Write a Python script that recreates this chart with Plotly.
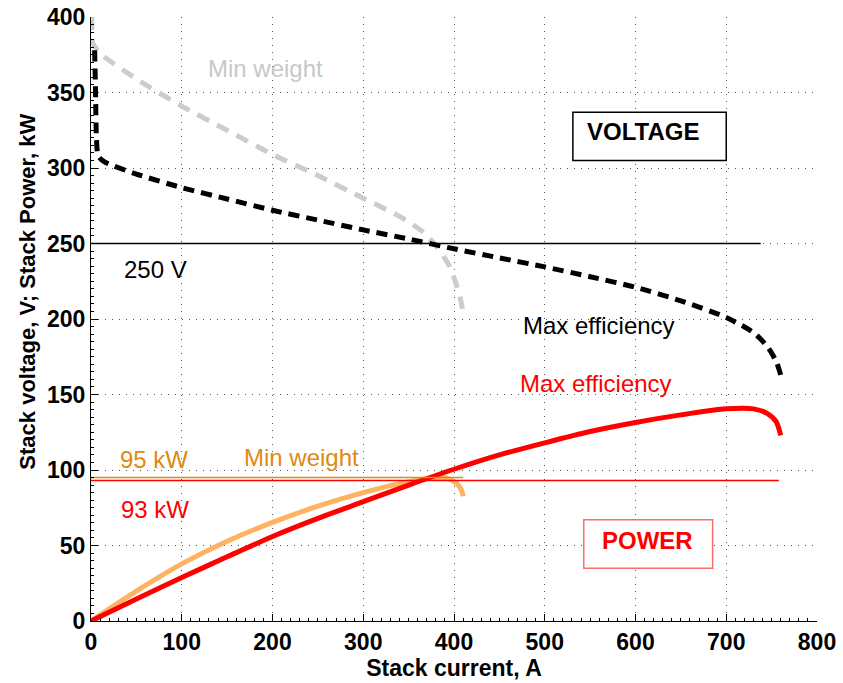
import plotly.graph_objects as go

# Stack voltage, max-efficiency design (current A, voltage V)
cur_v_eff = [4, 5, 6, 8, 15, 50, 100, 150, 200, 250, 300, 350, 400, 450,
             500, 550, 600, 650, 700, 730, 745, 755, 760]
v_eff = [378, 350, 320, 308, 304, 296, 287, 279.5, 272, 265.5, 259, 253, 246.5, 240.5,
         234.5, 228, 221, 212, 201, 191, 182, 172, 163]

# Stack voltage, min-weight design
cur_v_mw = [1, 2, 10, 50, 100, 150, 200, 250, 300, 340, 365, 381, 395, 403, 408, 410]
v_mw = [400, 383, 376, 359, 341, 325, 309, 295, 280, 268, 258, 248, 235, 222, 211, 202]

# Stack power, max-efficiency design (kW)
cur_p_eff = [0, 50, 100, 150, 200, 250, 300, 350, 400, 450, 500, 550, 600,
             650, 700, 730, 745, 755, 760]
p_eff = [0, 14.5, 28.8, 42.5, 56, 68, 79, 90, 100.5, 110, 118, 125.5, 131.5,
         136.5, 140.5, 140.5, 137.5, 132, 123]

# Stack power, min-weight design (kW)
cur_p_mw = [0, 50, 100, 150, 200, 250, 300, 340, 370, 385, 395, 403, 408, 410]
p_mw = [0, 19.8, 37.8, 52.8, 65.3, 76, 85, 91, 94.3, 95, 94, 91, 87, 82.6]

# Reference levels: (value, current range)
volt_ref = 250
volt_ref_cur = [0, 738]
p_ref_eff = 93
p_ref_eff_cur = [0, 758]
p_ref_mw = 95
p_ref_mw_cur = [0, 410]

x_ticks = [0, 100, 200, 300, 400, 500, 600, 700, 800]
y_ticks = [0, 50, 100, 150, 200, 250, 300, 350, 400]

RED = "#ff0000"
LIGHT_ORANGE = "#ffb262"
DARK_ORANGE = "#e08a10"
GREY = "#cccccc"
FONT = "Liberation Sans, Arial, Helvetica, sans-serif"

fig = go.Figure()

smooth = dict(shape="spline", smoothing=0.7)
fig.add_trace(go.Scatter(x=cur_v_mw, y=v_mw, mode="lines",
                         line=dict(color=GREY, width=5, dash="13px,9px", **smooth)))
fig.add_trace(go.Scatter(x=cur_v_eff, y=v_eff, mode="lines",
                         line=dict(color="black", width=5, dash="11px,7px", **smooth)))
fig.add_trace(go.Scatter(x=cur_p_mw, y=p_mw, mode="lines",
                         line=dict(color=LIGHT_ORANGE, width=5, **smooth)))
fig.add_trace(go.Scatter(x=cur_p_eff, y=p_eff, mode="lines",
                         line=dict(color=RED, width=5, **smooth)))

fig.add_trace(go.Scatter(x=volt_ref_cur, y=[volt_ref] * 2, mode="lines",
                         line=dict(color="black", width=1.5)))
fig.add_trace(go.Scatter(x=p_ref_eff_cur, y=[p_ref_eff] * 2, mode="lines",
                         line=dict(color=RED, width=1.5)))
fig.add_trace(go.Scatter(x=p_ref_mw_cur, y=[p_ref_mw] * 2, mode="lines",
                         line=dict(color=DARK_ORANGE, width=1.5)))

def label(text, x, y, color, size=24, bold=False):
    fig.add_annotation(x=x, y=y, text=f"<b>{text}</b>" if bold else text,
                       showarrow=False, xanchor="center", yanchor="middle",
                       font=dict(family=FONT, size=size, color=color))

label("Min weight", 192, 366, "#c8c8c8")
label("250 V", 71, 233, "black")
label("Max efficiency", 560, 196, "black")
label("Max efficiency", 556, 157, RED)
label("95 kW", 69, 107, DARK_ORANGE)
label("Min weight", 232, 108, DARK_ORANGE)
label("93 kW", 70, 74, RED)

# Framed titles for the two groups of curves
fig.add_shape(type="rect", x0=531, x1=700, y0=305, y1=337,
              line=dict(color="black", width=1.5), fillcolor="white", layer="above")
label("VOLTAGE", 608, 324, "black", bold=True)
fig.add_shape(type="rect", x0=543, x1=685, y0=35, y1=67,
              line=dict(color="#ff6a6a", width=1.5), fillcolor="white", layer="above")
label("POWER", 613, 53, RED, bold=True)

# Vertical axis title, placed as a rotated paper-anchored annotation
fig.add_annotation(text="<b>Stack voltage, V; Stack Power, kW</b>",
                   xref="paper", yref="paper", x=-0.087, y=0.545,
                   xanchor="center", yanchor="middle", textangle=-90,
                   showarrow=False,
                   font=dict(family=FONT, size=22, color="black"))

axis_common = dict(
    showline=True, linecolor="black", linewidth=1, mirror=False,
    ticks="inside", ticklen=7, tickcolor="black",
    showgrid=True, gridcolor="#555555", gridwidth=1, griddash="1px,6px",
    zeroline=False,
    tickfont=dict(family=FONT, size=23, color="black", weight="bold"),
)

fig.update_xaxes(range=[0, 800], tickvals=x_ticks,
                 ticktext=[str(v) for v in x_ticks],
                 minor=dict(dtick=10, ticks="inside", ticklen=3,
                            tickcolor="black", showgrid=False),
                 title=dict(text="<b>Stack current, A</b>", standoff=2,
                            font=dict(family=FONT, size=23, color="black")),
                 **axis_common)
fig.update_yaxes(range=[0, 400], tickvals=y_ticks,
                 ticktext=[str(v) for v in y_ticks],
                 minor=dict(dtick=5, ticks="inside", ticklen=3,
                            tickcolor="black", showgrid=False),
                 **axis_common)

fig.update_layout(
    width=843, height=683,
    margin=dict(l=91, r=26, t=17, b=62, autoexpand=False),
    paper_bgcolor="white", plot_bgcolor="white",
    showlegend=False, hovermode=False,
)

fig.write_html("out.html")
